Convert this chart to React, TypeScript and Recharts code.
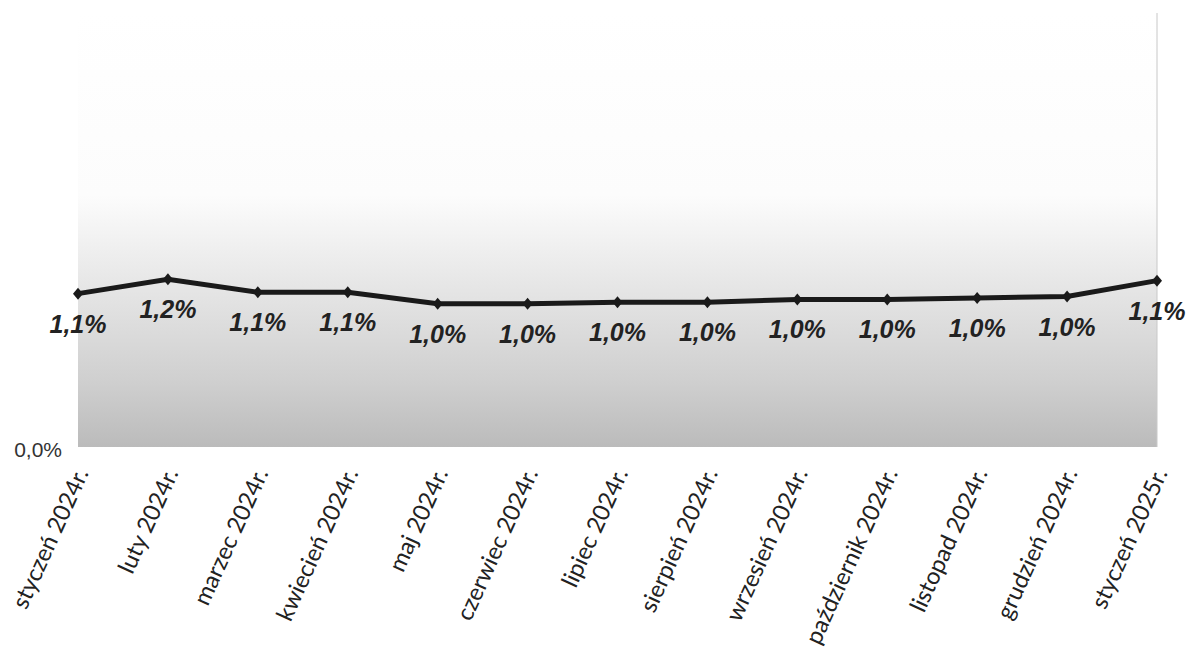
import { LineChart, Line, XAxis, YAxis, CartesianGrid, LabelList, ReferenceLine } from "recharts";

const months = [
  "styczeń 2024r.",
  "luty 2024r.",
  "marzec 2024r.",
  "kwiecień 2024r.",
  "maj 2024r.",
  "czerwiec 2024r.",
  "lipiec 2024r.",
  "sierpień 2024r.",
  "wrzesień 2024r.",
  "październik 2024r.",
  "listopad 2024r.",
  "grudzień 2024r.",
  "styczeń 2025r.",
];
const rates = [1.06, 1.16, 1.07, 1.07, 0.99, 0.99, 1.0, 1.0, 1.02, 1.02, 1.03, 1.04, 1.15];
const yTicks = [0];

const data = months.map((m, i) => ({ month: m, rate: rates[i] }));

const pct = (v: number) => v.toFixed(1).replace(".", ",") + "%";

const XTick = (props: any) => {
  const { x, y, payload } = props;
  return (
    <g transform={`translate(${x + 11},${y + 18})`}>
      <text
        transform="rotate(-65.5)"
        textAnchor="end"
        fontFamily="Lato, 'Open Sans', sans-serif"
        fontSize={23.5}
        fill="#222"
      >
        {payload.value}
      </text>
    </g>
  );
};

const YTick = (props: any) => {
  const { y, payload } = props;
  return (
    <text x={62} y={y + 10} textAnchor="end" fontFamily="'Liberation Sans', Arial, sans-serif" fontSize={21} fill="#333">
      {pct(payload.value)}
    </text>
  );
};

const Diamond = (props: any) => {
  const { cx, cy } = props;
  if (cx == null || cy == null) return null;
  return <polygon points={`${cx},${cy - 6} ${cx + 5},${cy} ${cx},${cy + 6} ${cx - 5},${cy}`} fill="#1a1a1a" />;
};

const ValueLabel = (props: any) => {
  const { x, y, value } = props;
  return (
    <text
      x={x}
      y={y + 39}
      textAnchor="middle"
      fontFamily="'Liberation Sans', Arial, sans-serif"
      fontWeight="bold"
      fontStyle="italic"
      fontSize={25}
      fill="#222"
    >
      {pct(value)}
    </text>
  );
};

export default function App() {
  return (
    <div style={{ position: "absolute", left: 0, top: 0, width: 1193, height: 649, background: "#fff" }}>
      <LineChart width={1193} height={649} data={data} margin={{ top: 13, right: 36, left: 0, bottom: 0 }}>
        <defs>
          <linearGradient id="bg" x1="0" y1="0" x2="0" y2="1">
            <stop offset="0" stopColor="#ffffff" />
            <stop offset="0.42" stopColor="#fcfcfc" />
            <stop offset="0.63" stopColor="#e6e6e6" />
            <stop offset="0.85" stopColor="#cfcfcf" />
            <stop offset="1" stopColor="#bbbbbb" />
          </linearGradient>
        </defs>
        <CartesianGrid horizontal={false} vertical={false} fill="url(#bg)" />
        <XAxis dataKey="month" axisLine={false} tickLine={false} height={202} interval={0} tick={<XTick />} />
        <YAxis domain={[0, 3]} ticks={yTicks} axisLine={false} tickLine={false} width={78} tick={<YTick />} />
        <ReferenceLine x={months[months.length - 1]} stroke="#c8c8c8" strokeWidth={1} />
        <Line
          dataKey="rate"
          stroke="#1a1a1a"
          strokeWidth={5}
          dot={<Diamond />}
          activeDot={false}
          isAnimationActive={false}
        >
          <LabelList dataKey="rate" content={<ValueLabel />} />
        </Line>
      </LineChart>
    </div>
  );
}
